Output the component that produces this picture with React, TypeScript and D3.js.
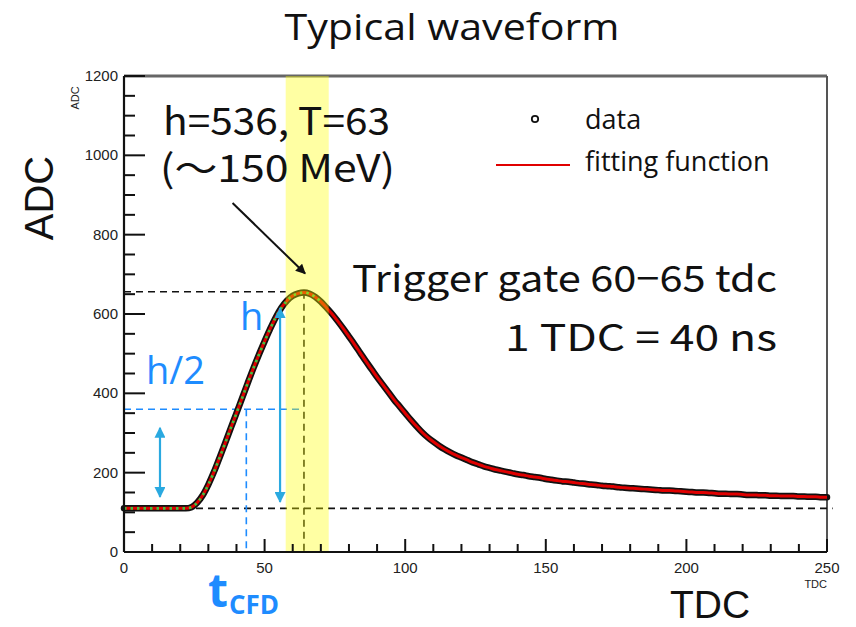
import React from 'react';
import * as d3 from 'd3';

// waveform samples (TDC, ADC)
const waveTdc = [
  0, 2, 4, 6, 8, 10, 12, 14, 16, 18, 20, 22, 24, 26, 28, 30, 32, 34, 36, 38,
  40, 42, 44, 46, 48, 50, 52, 54, 56, 58, 60, 62, 64, 66, 68, 70, 72, 74, 76, 78,
  80, 82, 84, 86, 88, 90, 92, 94, 96, 98, 100, 102, 104, 106, 108, 110, 112, 114, 116, 118,
  120, 122, 124, 126, 128, 130, 132, 134, 136, 138, 140, 142, 144, 146, 148, 150, 152, 154, 156, 158,
  160, 162, 164, 166, 168, 170, 172, 174, 176, 178, 180, 182, 184, 186, 188, 190, 192, 194, 196, 198,
  200, 202, 204, 206, 208, 210, 212, 214, 216, 218, 220, 222, 224, 226, 228, 230, 232, 234, 236, 238,
  240, 242, 244, 246, 248, 250,
];
const waveAdc = [
  110, 110, 110, 110, 110, 110, 110, 110, 110, 110, 110, 110, 113, 124, 143, 170, 202, 238, 275, 313,
  350, 388, 426, 463, 498, 531, 563, 592, 616, 634, 646, 652, 654, 651, 643, 631, 616, 600, 582, 563,
  543, 523, 502, 481, 461, 441, 422, 403, 384, 367, 350, 333, 317, 302, 289, 278, 268, 259, 251, 244,
  238, 232, 226, 221, 216, 212, 208, 205, 202, 199, 196, 194, 191, 189, 187, 184, 182, 180, 178, 177,
  175, 173, 172, 170, 169, 167, 166, 165, 163, 162, 161, 160, 159, 158, 157, 156, 155, 155, 154, 153,
  152, 151, 150, 150, 149, 148, 147, 147, 146, 146, 145, 144, 144, 143, 143, 142, 142, 141, 141, 141,
  140, 140, 139, 139, 138, 138,
];

const xTicks = [0, 50, 100, 150, 200, 250];
const yTicks = [0, 200, 400, 600, 800, 1000, 1200];

const baselineAdc = 110;
const peakAdc = 656;
const peakTdc = 64;
const halfAdc = 360;
const cfdTdc = 43.5;
const gateRange = [57.5, 72.8];
const greenUntil = 70;

const W = 856;
const H = 627;
const blue = '#1e8cff';
const arrowBlue = '#2aa9e0';
const jpFont = 'Noto Sans CJK JP, sans-serif';

export default function App() {
  const x = d3.scaleLinear().domain([0, 250]).range([124, 827]);
  const y = d3.scaleLinear().domain([0, 1200]).range([552, 76]);

  const pts = waveTdc.map((t, i) => [t, waveAdc[i]] as [number, number]);
  const line = d3.line<[number, number]>()
    .x(d => x(d[0]))
    .y(d => y(d[1]))
    .curve(d3.curveMonotoneX);

  const wavePath = line(pts) || '';
  const greenPath = line(pts.filter(d => d[0] <= greenUntil)) || '';

  const minorX = d3.range(0, 251, 10);
  const minorY = d3.range(0, 1201, 50);

  const tickFont = { fontFamily: 'Liberation Sans, Arial, sans-serif', fontSize: 15, fill: '#222' };

  return (
    <svg width={W} height={H} style={{ position: 'absolute', left: 0, top: 0, background: '#fff' }}>
      <defs>
        <marker id="blackHead" viewBox="0 0 10 10" refX="9" refY="5" markerWidth="5" markerHeight="5" orient="auto">
          <path d="M0,0 L10,5 L0,10 z" fill="#111" />
        </marker>
        <marker id="blueHead" viewBox="0 0 10 10" refX="9" refY="5" markerWidth="6" markerHeight="5" orient="auto-start-reverse">
          <path d="M0,0 L10,5 L0,10 z" fill={arrowBlue} />
        </marker>
      </defs>

      {/* title */}
      <text x={452} y={40} textAnchor="middle" textLength={335} lengthAdjust="spacingAndGlyphs"
        style={{ fontFamily: 'Open Sans, sans-serif', fontSize: 36, fill: '#111' }}>
        Typical waveform
      </text>

      {/* frame */}
      <line x1={x(0)} x2={x(250)} y1={y(1200)} y2={y(1200)} stroke="#666" strokeWidth={3} />
      <line x1={x(250)} x2={x(250)} y1={y(1200)} y2={y(0)} stroke="#555" strokeWidth={2} />

      {/* guide lines */}
      <line x1={x(0)} x2={x(252)} y1={y(baselineAdc)} y2={y(baselineAdc)} stroke="#111" strokeWidth={1.6} strokeDasharray="7,5" />
      <line x1={x(0)} x2={x(gateRange[0])} y1={y(peakAdc)} y2={y(peakAdc)} stroke="#111" strokeWidth={1.6} strokeDasharray="7,5" />
      <line x1={x(peakTdc)} x2={x(peakTdc)} y1={y(peakAdc)} y2={y(0)} stroke="#111" strokeWidth={1.6} strokeDasharray="7,5" />
      <line x1={x(0)} x2={x(peakTdc)} y1={y(halfAdc)} y2={y(halfAdc)} stroke={blue} strokeWidth={1.6} strokeDasharray="7,5" />
      <line x1={x(cfdTdc)} x2={x(cfdTdc)} y1={y(halfAdc)} y2={y(0)} stroke={blue} strokeWidth={1.6} strokeDasharray="7,5" />

      {/* data and fit */}
      <path d={wavePath} fill="none" stroke="#111" strokeWidth={6.5} strokeLinejoin="round" strokeLinecap="round" />
      <path d={wavePath} fill="none" stroke="#e00000" strokeWidth={3} />
      <path d={greenPath} fill="none" stroke="#3fc43f" strokeWidth={2.6} strokeDasharray="2.5,4" />

      {/* trigger gate */}
      <rect x={x(gateRange[0])} y={y(1200)} width={x(gateRange[1]) - x(gateRange[0])} height={y(0) - y(1200)}
        fill="#ffff00" opacity={0.36} />

      {/* axes */}
      <line x1={x(0)} x2={x(0)} y1={y(1200)} y2={y(0)} stroke="#111" strokeWidth={2.2} />
      <line x1={x(0)} x2={x(250)} y1={y(0)} y2={y(0)} stroke="#111" strokeWidth={2.2} />
      {minorY.map(v => (
        <line key={'my' + v} x1={x(0)} x2={x(0) + (v % 200 === 0 ? 21 : 11)} y1={y(v)} y2={y(v)} stroke="#111" strokeWidth={2} />
      ))}
      {minorX.map(v => (
        <line key={'mx' + v} x1={x(v)} x2={x(v)} y1={y(0)} y2={y(0) - (v % 50 === 0 ? 13 : 8)} stroke="#111" strokeWidth={2} />
      ))}
      {yTicks.map(v => (
        <text key={'ty' + v} x={x(0) - 6} y={y(v) + 5} textAnchor="end" style={tickFont}>{v}</text>
      ))}
      {xTicks.map(v => (
        <text key={'tx' + v} x={x(v)} y={y(0) + 21} textAnchor="middle" style={tickFont}>{v}</text>
      ))}
      <text transform={`translate(79,98) rotate(-90)`} textAnchor="middle" style={{ ...tickFont, fontSize: 11 }}>ADC</text>
      <text x={x(250)} y={y(0) + 36} textAnchor="end" style={{ ...tickFont, fontSize: 11 }}>TDC</text>

      {/* axis titles */}
      <text transform={`translate(53,198) rotate(-90)`} textAnchor="middle" style={{ fontFamily: 'Liberation Sans, Arial, sans-serif', fontSize: 40, fill: '#111' }}>ADC</text>
      <text x={710} y={618} textAnchor="middle" style={{ fontFamily: 'Liberation Sans, Arial, sans-serif', fontSize: 39, fill: '#111' }}>TDC</text>

      {/* legend */}
      <circle cx={535} cy={119} r={3.2} fill="none" stroke="#111" strokeWidth={1.8} />
      <text x={585} y={129} style={{ fontFamily: 'Open Sans, sans-serif', fontSize: 27, fill: '#111' }}>data</text>
      <line x1={496} x2={570} y1={165} y2={165} stroke="#e00000" strokeWidth={2} />
      <text x={585} y={171} style={{ fontFamily: 'Open Sans, sans-serif', fontSize: 27, fill: '#111' }}>fitting function</text>

      {/* peak annotation */}
      <text style={{ fontFamily: jpFont, fontSize: 38, fill: '#111' }}>
        <tspan x={163} y={135} textLength={227} lengthAdjust="spacingAndGlyphs">h=536, T=63</tspan>
        <tspan x={160} y={182} textLength={235} lengthAdjust="spacingAndGlyphs">(～150 MeV)</tspan>
      </text>
      <line x1={x(38.6)} y1={y(880)} x2={x(64.4)} y2={y(702)} stroke="#111" strokeWidth={2} markerEnd="url(#blackHead)" />

      <text style={{ fontFamily: jpFont, fontSize: 37, fill: '#111' }}>
        <tspan x={352} y={292} textLength={425} lengthAdjust="spacingAndGlyphs">Trigger gate 60−65 tdc</tspan>
        <tspan x={505} y={351} textLength={272} lengthAdjust="spacingAndGlyphs">1 TDC = 40 ns</tspan>
      </text>

      {/* CFD annotations */}
      <line x1={x(12.8)} x2={x(12.8)} y1={y(313)} y2={y(139)} stroke={arrowBlue} strokeWidth={2.2}
        markerStart="url(#blueHead)" markerEnd="url(#blueHead)" />
      <line x1={x(55.5)} x2={x(55.5)} y1={y(615)} y2={y(126)} stroke={arrowBlue} strokeWidth={2.2}
        markerStart="url(#blueHead)" markerEnd="url(#blueHead)" />
      <text x={240} y={330} style={{ fontFamily: 'Open Sans, sans-serif', fontSize: 38, fill: blue }}>h</text>
      <text x={146} y={384} style={{ fontFamily: 'Open Sans, sans-serif', fontSize: 38, fill: blue }}>h/2</text>
      <text x={208} y={607} style={{ fontFamily: 'Open Sans, sans-serif', fontSize: 46, fontWeight: 700, fill: blue }}>t</text>
      <text x={229} y={614} style={{ fontFamily: 'Open Sans, sans-serif', fontSize: 26, fontWeight: 700, fill: blue }}>CFD</text>
    </svg>
  );
}
